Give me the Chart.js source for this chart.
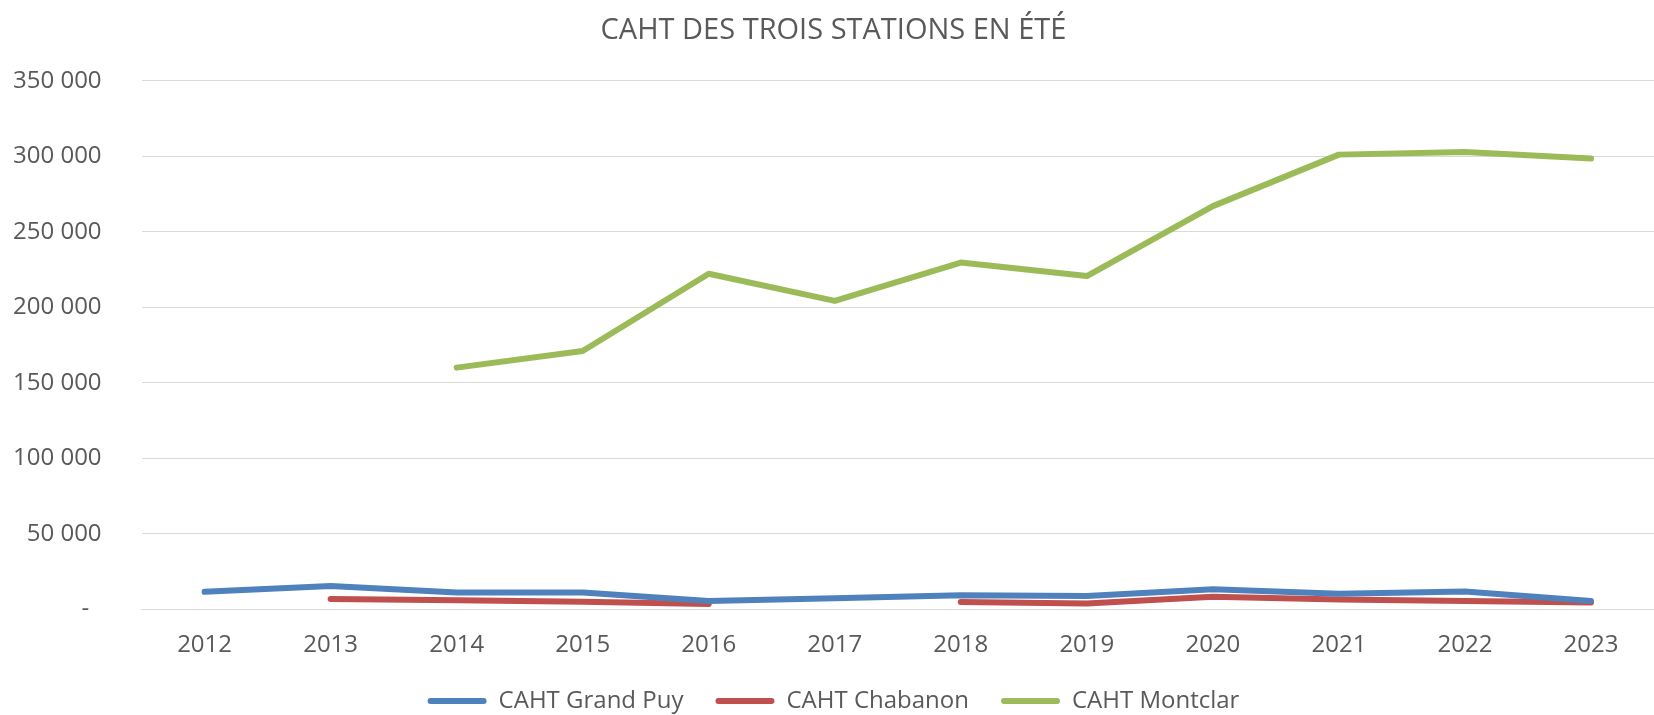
<!DOCTYPE html>
<html lang="fr">
<head>
<meta charset="utf-8">
<title>CAHT des trois stations en été</title>
<script src="https://cdn.jsdelivr.net/npm/chart.js@4.4.1/dist/chart.umd.min.js"></script>
<style>
  html, body { margin: 0; padding: 0; background: #fff; }
  #wrap { width: 1654px; height: 715px; position: relative; }
</style>
</head>
<body>
<div id="wrap"><canvas id="cahtChart"></canvas></div>
<script>
// Données
const annees = ['2012', '2013', '2014', '2015', '2016', '2017', '2018', '2019', '2020', '2021', '2022', '2023'];
const cahtGrandPuy = [11500, 15400, 11000, 11000, 5500, 7300, 9200, 8800, 13200, 10300, 11700, 5500];
const cahtChabanon = [null, 6800, 6000, 5000, 3400, null, 4800, 3800, 8200, 6400, 5500, 4400];
const cahtMontclar = [null, null, 160000, 171000, 222200, 204200, 229600, 220700, 267000, 301100, 302900, 298500];

const yMax = 350000;
const yPas = 50000;

// Format comptable Excel : espace comme séparateur, tiret pour zéro
const formatMontant = (v) => {
    if (v === 0) return '-  ';
    return String(v).replace(/\B(?=(\d{3})+(?!\d))/g, ' ');
};

const gris = '#595959';
Chart.defaults.font.family = "'Open Sans', sans-serif";
Chart.defaults.color = gris;

const serie = (label, data, color) => ({
    label: label,
    data: data,
    borderColor: color,
    backgroundColor: color,
    borderWidth: 6,
    borderCapStyle: 'round',
    borderJoinStyle: 'round',
    pointRadius: 0,
    pointHoverRadius: 0,
    tension: 0,
    spanGaps: false
});

// Chart.js compte le padding des ticks deux fois : on retire le surplus
const retirerPadding = (scale) => {
    const p = scale.options.ticks.padding;
    if (scale.isHorizontal()) scale.height -= p + 3;
    else scale.width -= p;
};

const ctx = document.getElementById('cahtChart');
new Chart(ctx, {
    type: 'line',
    data: {
        labels: annees,
        datasets: [
            serie('CAHT Grand Puy', cahtGrandPuy, '#4F81BD'),
            serie('CAHT Chabanon', cahtChabanon, '#C0504D'),
            serie('CAHT Montclar', cahtMontclar, '#9BBB59')
        ]
    },
    options: {
        responsive: true, maintainAspectRatio: false,
        animation: false,
        layout: { padding: { left: 13, right: 0, top: 13, bottom: -8 } },
        plugins: {
            title: {
                display: true,
                text: 'CAHT DES TROIS STATIONS EN ÉTÉ',
                color: gris,
                font: { size: 29, weight: 'normal' },
                padding: { top: 0, bottom: 33 }
            },
            legend: {
                position: 'bottom',
                labels: {
                    color: gris,
                    font: { size: 24 },
                    boxWidth: 59,
                    boxHeight: 6,
                    padding: 32,
                    useBorderRadius: true,
                    borderRadius: 3,
                    generateLabels: (chart) => {
                        const items = Chart.defaults.plugins.legend.labels.generateLabels(chart);
                        items.forEach(it => { it.lineWidth = 0; it.fillStyle = it.strokeStyle; });
                        return items;
                    }
                }
            },
            tooltip: { enabled: false }
        },
        scales: {
            x: {
                offset: true,
                grid: { display: false, drawTicks: false },
                border: { display: true, color: '#D9D9D9', width: 1 },
                ticks: { color: gris, font: { size: 24 }, padding: 22, maxRotation: 0 },
                afterFit: retirerPadding
            },
            y: {
                min: 0, max: yMax,
                grid: { color: '#D9D9D9', lineWidth: 1, drawTicks: false },
                border: { display: false },
                ticks: {
                    stepSize: yPas,
                    color: gris,
                    font: { size: 24 },
                    padding: 40,
                    callback: (v) => formatMontant(v)
                },
                afterFit: retirerPadding
            }
        }
    }
});
</script>
</body>
</html>
